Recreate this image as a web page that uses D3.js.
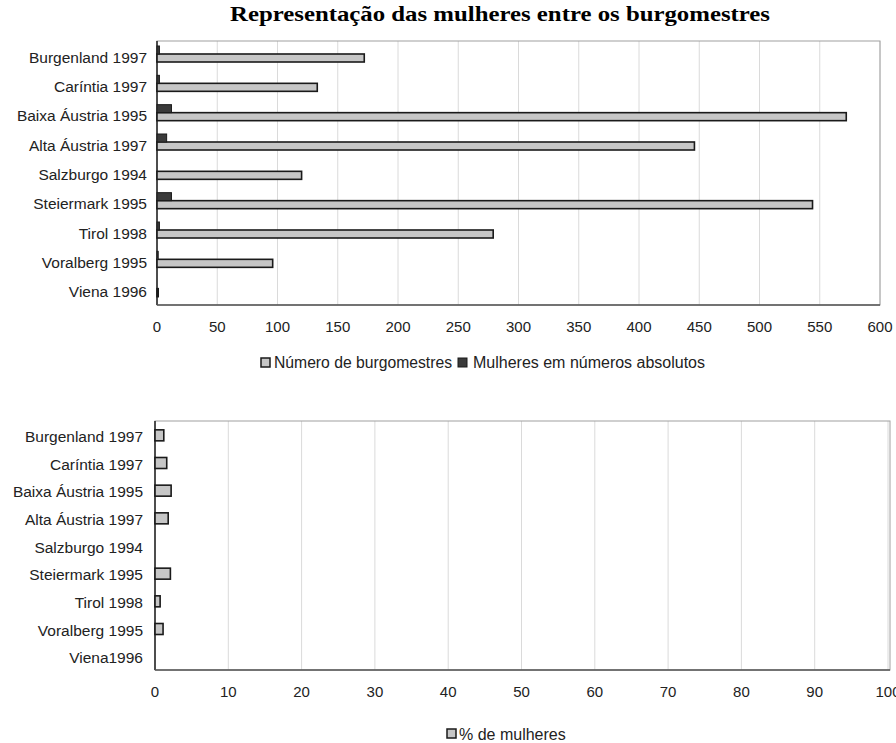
<!DOCTYPE html>
<html>
<head>
<meta charset="utf-8">
<script src="https://cdn.jsdelivr.net/npm/d3@7"></script>
<style>
  body { margin: 0; background: #fff; }
  text { font-family: "Liberation Sans", Arial, sans-serif; }
</style>
</head>
<body>
<div id="chart"></div>
<script>
const width = 896, height = 743;

const regioes = ["Burgenland 1997", "Caríntia 1997", "Baixa Áustria 1995", "Alta Áustria 1997",
  "Salzburgo 1994", "Steiermark 1995", "Tirol 1998", "Voralberg 1995", "Viena 1996"];
const regioesPct = ["Burgenland 1997", "Caríntia 1997", "Baixa Áustria 1995", "Alta Áustria 1997",
  "Salzburgo 1994", "Steiermark 1995", "Tirol 1998", "Voralberg 1995", "Viena1996"];
const numeroBurgomestres = [172, 133, 572, 446, 120, 544, 279, 96, 1];
const mulheresAbs = [2, 2, 12, 8, 0, 12, 2, 1, 0];
const pctMulheres = [1.2, 1.6, 2.2, 1.8, 0, 2.1, 0.7, 1.1, 0];
const ticksTop = [0, 50, 100, 150, 200, 250, 300, 350, 400, 450, 500, 550, 600];
const ticksBottom = [0, 10, 20, 30, 40, 50, 60, 70, 80, 90, 100];

const svg = d3.select("#chart")
  .append("svg")
    .attr("width", width)
    .attr("height", height);

svg.append("text")
    .attr("x", 500)
    .attr("y", 21)
    .attr("text-anchor", "middle")
    .attr("textLength", 540)
    .attr("lengthAdjust", "spacingAndGlyphs")
    .style("font-family", "'Liberation Serif', 'Times New Roman', serif")
    .style("font-weight", "bold")
    .style("font-size", "21px")
    .text("Representação das mulheres entre os burgomestres");

const drawPanel = (opts) => {
  const { cats, x, y, right, ticks, bottom, top, gap } = opts;
  const g = svg.append("g");

  // gridlines
  g.selectAll("line.grid")
    .data(ticks.slice(1))
    .join("line")
      .attr("class", "grid")
      .attr("x1", d => x(d)).attr("x2", d => x(d))
      .attr("y1", top).attr("y2", bottom)
      .attr("stroke", "#dadada")
      .attr("stroke-width", 1);

  // plot border
  g.append("rect")
    .attr("x", x(0)).attr("y", top)
    .attr("width", right - x(0)).attr("height", bottom - top)
    .attr("fill", "none")
    .attr("stroke", "#a0a0a0")
    .attr("stroke-width", 1);

  // axes
  g.append("line")
    .attr("x1", x(0)).attr("x2", x(0))
    .attr("y1", top).attr("y2", bottom)
    .attr("stroke", "#222").attr("stroke-width", 1.5);
  g.append("line")
    .attr("x1", x(0)).attr("x2", right)
    .attr("y1", bottom).attr("y2", bottom)
    .attr("stroke", "#555").attr("stroke-width", 1.5);

  // category labels
  g.selectAll("text.cat")
    .data(cats)
    .join("text")
      .attr("class", "cat")
      .attr("x", x(0) - gap)
      .attr("y", d => y(d) + y.bandwidth() / 2 + 3)
      .attr("text-anchor", "end")
      .attr("dominant-baseline", "middle")
      .style("font-size", "15.5px")
      .style("fill", "#222")
      .text(d => d);

  // tick labels
  g.selectAll("text.tick")
    .data(ticks)
    .join("text")
      .attr("class", "tick")
      .attr("x", d => x(d))
      .attr("y", bottom + 27)
      .attr("text-anchor", "middle")
      .style("font-size", "15px")
      .style("fill", "#222")
      .text(d => d);
  return g;
};

// ---- top panel
const top1 = 41, bottom1 = 305, right1 = 880;
const x1 = d3.scaleLinear().domain([0, 600]).range([157, 880]);
const y1 = d3.scaleBand().domain(regioes).range([top1, bottom1]);
const g1 = drawPanel({ cats: regioes, x: x1, y: y1, right: right1, ticks: ticksTop, bottom: bottom1, top: top1, gap: 10 });

const topData = regioes.map((r, i) => ({ r, n: numeroBurgomestres[i], m: mulheresAbs[i] }));

g1.selectAll("rect.num")
  .data(topData)
  .join("rect")
    .attr("class", "num")
    .attr("x", x1(0))
    .attr("y", d => y1(d.r) + 13)
    .attr("width", d => x1(d.n) - x1(0))
    .attr("height", 8)
    .attr("fill", "#c6c6c6")
    .attr("stroke", "#1a1a1a")
    .attr("stroke-width", 1.6);

g1.selectAll("rect.mul")
  .data(topData.filter(d => d.m > 0))
  .join("rect")
    .attr("class", "mul")
    .attr("x", x1(0))
    .attr("y", d => y1(d.r) + 5)
    .attr("width", d => x1(d.m) - x1(0))
    .attr("height", 8)
    .attr("fill", "#3a3a3a")
    .attr("stroke", "#1a1a1a")
    .attr("stroke-width", 1);

// legend top
const leg1 = svg.append("g").attr("transform", "translate(261, 368)");
leg1.append("rect").attr("x", 0).attr("y", -10).attr("width", 9).attr("height", 9)
  .attr("fill", "#c6c6c6").attr("stroke", "#1a1a1a").attr("stroke-width", 1.5);
leg1.append("text").attr("x", 13).attr("y", 0).style("font-size", "16px").style("fill", "#222")
  .attr("textLength", 178).attr("lengthAdjust", "spacingAndGlyphs")
  .text("Número de burgomestres");
leg1.append("rect").attr("x", 197).attr("y", -10).attr("width", 9).attr("height", 9)
  .attr("fill", "#3a3a3a").attr("stroke", "#1a1a1a").attr("stroke-width", 1);
leg1.append("text").attr("x", 212).attr("y", 0).style("font-size", "16px").style("fill", "#222")
  .attr("textLength", 232).attr("lengthAdjust", "spacingAndGlyphs")
  .text("Mulheres em números absolutos");

// ---- bottom panel
const top2 = 421, bottom2 = 670, right2 = 890;
const x2 = d3.scaleLinear().domain([0, 100]).range([155, 888]);
const y2 = d3.scaleBand().domain(regioesPct).range([top2, bottom2]);
const g2 = drawPanel({ cats: regioesPct, x: x2, y: y2, right: right2, ticks: ticksBottom, bottom: bottom2, top: top2, gap: 12 });

const pctData = regioesPct.map((r, i) => ({ r, p: pctMulheres[i] }));
g2.selectAll("rect.pct")
  .data(pctData.filter(d => d.p > 0))
  .join("rect")
    .attr("class", "pct")
    .attr("x", x2(0))
    .attr("y", d => y2(d.r) + y2.bandwidth() / 2 - 5)
    .attr("width", d => x2(d.p) - x2(0))
    .attr("height", 11)
    .attr("fill", "#c6c6c6")
    .attr("stroke", "#1a1a1a")
    .attr("stroke-width", 1.6);

// legend bottom
const leg2 = svg.append("g").attr("transform", "translate(447, 740)");
leg2.append("rect").attr("x", 0).attr("y", -11).attr("width", 9).attr("height", 9)
  .attr("fill", "#c6c6c6").attr("stroke", "#1a1a1a").attr("stroke-width", 1.5);
leg2.append("text").attr("x", 12).attr("y", 0).style("font-size", "16px").style("fill", "#222")
  .text("% de mulheres");
</script>
</body>
</html>
